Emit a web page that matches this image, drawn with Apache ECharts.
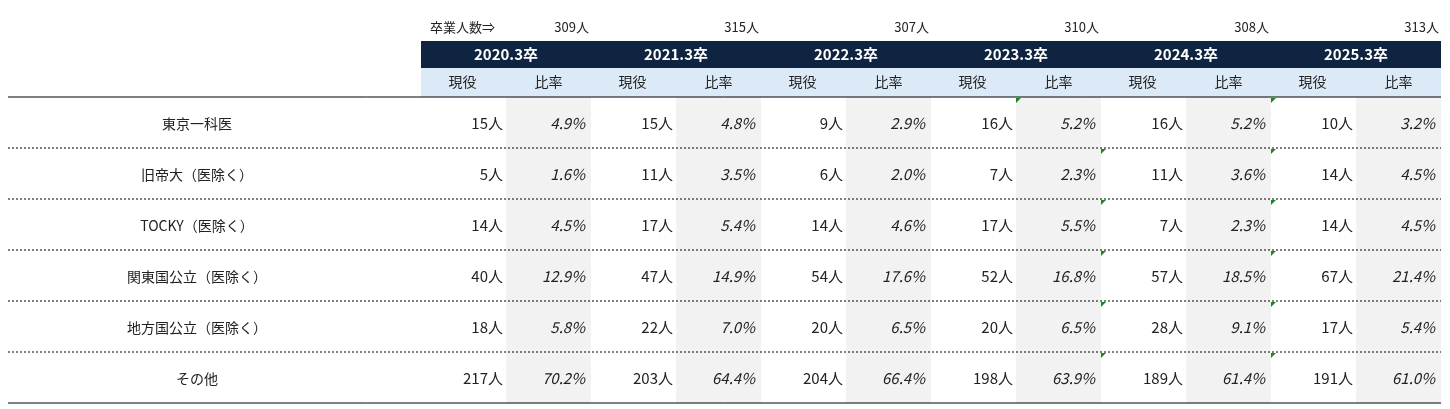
<!DOCTYPE html>
<html><head><meta charset="utf-8">
<script src="https://cdn.jsdelivr.net/npm/echarts@6/dist/echarts.min.js"></script>
<style>html,body{margin:0;padding:0;background:#fff}#c{width:1450px;height:409px}</style>
</head><body><div id="c"></div>
<script>
const years = ['2020.3卒','2021.3卒','2022.3卒','2023.3卒','2024.3卒','2025.3卒'];
const graduates = [309,315,307,310,308,313];
const categories = ['東京一科医','旧帝大（医除く）','TOCKY（医除く）','関東国公立（医除く）','地方国公立（医除く）','その他'];
const counts = [
  [15,15,9,16,16,10],
  [5,11,6,7,11,14],
  [14,17,14,17,7,14],
  [40,47,54,52,57,67],
  [18,22,20,20,28,17],
  [217,203,204,198,189,191]
];
const ratios = [
  [4.9,4.8,2.9,5.2,5.2,3.2],
  [1.6,3.5,2.0,2.3,3.6,4.5],
  [4.5,5.4,4.6,5.5,2.3,4.5],
  [12.9,14.9,17.6,16.8,18.5,21.4],
  [5.8,7.0,6.5,6.5,9.1,5.4],
  [70.2,64.4,66.4,63.9,61.4,61.0]
];

const FONT = '"Noto Sans CJK JP", "Noto Sans", sans-serif';
const X0 = 421, BW = 170, SW = 85, Y0 = 97, RH = 51;
const els = [];
const rect = (x,y,w,h,fill)=>els.push({type:'rect',shape:{x,y,width:w,height:h},style:{fill},silent:true});
const text = (x,y,t,o={})=>els.push({type:'text',x,y,style:Object.assign({text:t,font:(o.w||'normal')+' '+(o.s||14)+'px '+FONT,fill:o.c||'#222',textAlign:o.a||'center',textVerticalAlign:'middle'},o.st||{}),silent:true});
const line = (x1,y1,x2,y2,dash,w)=>els.push({type:'line',shape:{x1,y1,x2,y2},style:{stroke:'#000',lineWidth:w||1,lineDash:dash?[2,2]:null},silent:true});

// headers
rect(X0,41,BW*years.length,27,'#0e2440');
rect(X0,68,BW*years.length,29,'#dce9f7');
text(430,27,'卒業人数⇒',{a:'left',s:13});
years.forEach((y,i)=>{
  const bx = X0+i*BW;
  rect(bx+SW,Y0,SW,RH*categories.length,'#f2f2f2');
  text(bx+BW-2,27,graduates[i]+'人',{a:'right',s:13});
  text(bx+BW/2,54.5,y,{c:'#fff',w:'bold',s:15});
  text(bx+SW/2-1,82,'現役',{s:14});
  text(bx+SW+SW/2,82,'比率',{s:14});
});
categories.forEach((c,r)=>{
  const cy = Y0+RH*r+RH/2+1;
  text(197,cy,c,{s:14});
  years.forEach((y,i)=>{
    const bx = X0+i*BW;
    text(bx+SW-3,cy,counts[r][i]+'人',{a:'right',s:15});
    text(bx+BW-6,cy,ratios[r][i].toFixed(1)+'%',{a:'right',s:15,w:'italic'});
  });
  if (r>0) line(8,Y0+RH*r,1441,Y0+RH*r,true);
});
line(8,Y0,1441,Y0,false);
line(8,Y0+RH*6,1441,Y0+RH*6,false);
// green markers
const tri=(x,y)=>els.push({type:'polygon',shape:{points:[[x,y],[x+5,y],[x,y+5]]},style:{fill:'#1a8a1a'},silent:true});
tri(1016,Y0+1);
for(let r=1;r<6;r++) tri(1101,Y0+RH*r+1);
for(let r=0;r<6;r++) tri(1271,Y0+RH*r+1);

const chart = echarts.init(document.getElementById('c'),null,{renderer:'canvas'});
chart.setOption({animation:false,backgroundColor:'#fff',graphic:{elements:els}});
</script></body></html>
